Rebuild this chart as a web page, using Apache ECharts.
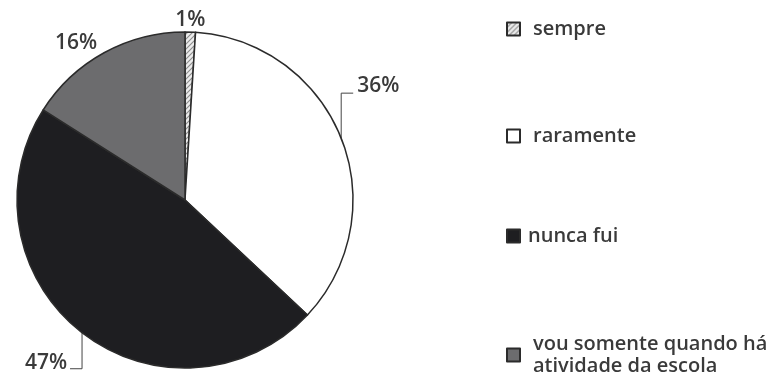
<!DOCTYPE html>
<html>
<head>
<meta charset="utf-8">
<script src="https://cdn.jsdelivr.net/npm/echarts@6/dist/echarts.min.js"></script>
<style>
html,body{margin:0;padding:0;background:#fff;}
#chart{width:775px;height:375px;}
</style>
</head>
<body>
<div id="chart"></div>
<script>
// ---- data ----
var categories = ['sempre', 'raramente', 'nunca fui', 'vou somente quando há\natividade da escola'];
var values = [1, 36, 47, 16];
var labelTexts = ['1%', '36%', '47%', '16%'];

// hatch pattern for "sempre"
function hatch() {
  var c = document.createElement('canvas');
  c.width = 5; c.height = 5;
  var g = c.getContext('2d');
  g.fillStyle = '#ececec';
  g.fillRect(0, 0, 5, 5);
  g.strokeStyle = '#8c8c8c';
  g.lineWidth = 1.1;
  g.beginPath();
  g.moveTo(-1, 6); g.lineTo(6, -1);
  g.moveTo(-1, 1); g.lineTo(1, -1);
  g.moveTo(4, 6); g.lineTo(6, 4);
  g.stroke();
  return c;
}

var fills = [{image: hatch(), repeat: 'repeat'}, '#ffffff', '#1e1e21', '#6c6c6e'];
var fontFam = '"Open Sans", "Noto Sans", sans-serif';
var textCol = '#3a3a3a';

var chart = echarts.init(document.getElementById('chart'), null, {renderer: 'canvas'});

var seriesData = categories.map(function (c, i) {
  return {name: c, value: values[i], itemStyle: {color: fills[i]}};
});

// one legend block per entry (layout only)
var legendTops = [13, 120, 220, 317];
var legendPadLeft = [8, 8, 3, 8];
var legends = categories.map(function (c, i) {
  return {
    orient: 'vertical',
    left: 501,
    top: legendTops[i],
    itemWidth: 13,
    itemHeight: 13,
    icon: 'rect',
    selectedMode: false,
    itemStyle: {borderColor: '#2b2b2b', borderWidth: 2},
    textStyle: {
      fontFamily: fontFam, fontSize: 20, fontWeight: 600, color: textCol,
      lineHeight: 22,
      padding: i === 3 ? [22, 0, 0, legendPadLeft[i]] : [0, 0, 0, legendPadLeft[i]]
    },
    data: [c]
  };
});

chart.setOption({
  backgroundColor: '#ffffff',
  animation: false,
  legend: legends,
  series: [{
    type: 'pie',
    center: [185, 200],
    radius: 168,
    startAngle: 90,
    clockwise: true,
    avoidLabelOverlap: false,
    data: seriesData,
    itemStyle: {borderColor: '#2b2b2b', borderWidth: 1.5},
    label: {
      show: true,
      position: 'outside',
      formatter: function (p) { return labelTexts[p.dataIndex]; },
      fontFamily: fontFam, fontSize: 21, fontWeight: 600, color: textCol
    },
    labelLine: {show: true, length: 10, length2: 10, lineStyle: {color: '#444', width: 1}},
    labelLayout: function (p) {
      var a = p.labelLinePoints && p.labelLinePoints[0];
      if (!a) return {};
      var ax = a[0], ay = a[1];
      var i = p.dataIndex;
      if (i === 0) {
        return {x: ax, y: ay - 12, align: 'center', verticalAlign: 'middle',
          labelLinePoints: [[ax, ay], [ax, ay], [ax, ay]]};
      }
      if (i === 3) {
        return {x: ax - 28, y: ay - 10, align: 'center', verticalAlign: 'middle',
          labelLinePoints: [[ax, ay], [ax, ay], [ax, ay]]};
      }
      if (i === 1) {
        return {x: ax + 16, y: ay - 52, align: 'left', verticalAlign: 'middle',
          labelLinePoints: [[ax, ay], [ax, ay - 45], [ax + 12, ay - 45]]};
      }
      if (i === 2) {
        return {x: ax - 15, y: ay + 30, align: 'right', verticalAlign: 'middle',
          labelLinePoints: [[ax, ay], [ax, ay + 36], [ax - 12, ay + 36]]};
      }
      return {};
    }
  }]
});
</script>
</body>
</html>
